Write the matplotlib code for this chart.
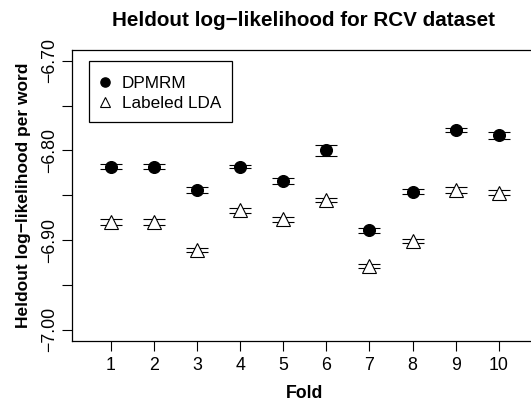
import numpy as np
import matplotlib
matplotlib.use("Agg")
import matplotlib.pyplot as plt
from matplotlib.lines import Line2D
from matplotlib.patches import Rectangle

plt.rcParams['font.family'] = ['Liberation Sans', 'DejaVu Sans']

# --- data ---
folds = [1, 2, 3, 4, 5, 6, 7, 8, 9, 10]
dpmrm = [-6.818, -6.818, -6.844, -6.818, -6.834, -6.800, -6.889, -6.846, -6.777, -6.783]
dpmrm_err = [0.003, 0.003, 0.003, 0.002, 0.003, 0.006, 0.003, 0.003, 0.002, 0.004]
lda = [-6.880, -6.880, -6.911, -6.867, -6.877, -6.855, -6.929, -6.901, -6.844, -6.847]
lda_err = [0.003, 0.003, 0.002, 0.003, 0.003, 0.002, 0.002, 0.002, 0.003, 0.003]

yticks = [-7.00, -6.95, -6.90, -6.85, -6.80, -6.75, -6.70]
ylabels = ['\u22127.00', '', '\u22126.90', '', '\u22126.80', '', '\u22126.70']

W, H = 531, 403
fig = plt.figure(figsize=(W / 100, H / 100), dpi=100)
# axes box runs past the right edge, as in the cropped original
ax = fig.add_axes([72 / W, 1 - 340.5 / H, (537.5 - 72) / W, (340.5 - 50) / H])

# --- error bars (caps only) ---
ax.errorbar(folds, dpmrm, yerr=dpmrm_err, fmt='none', ecolor='black',
            elinewidth=0.8, capsize=8, capthick=0.8, zorder=2)
ax.errorbar(folds, lda, yerr=lda_err, fmt='none', ecolor='black',
            elinewidth=0.8, capsize=8, capthick=0.8, zorder=2)

# --- points ---
ax.plot(folds, dpmrm, 'o', color='black', markersize=8.4, zorder=3)
ax.plot(folds, lda, '^', markerfacecolor='white', markeredgecolor='black',
        markeredgewidth=0.8, markersize=9.5, zorder=3)

ax.set_xlim(0.1, 10.9)
ax.set_ylim(-7.012, -6.688)
ax.set_xticks(folds)
ax.set_xticklabels([str(f) for f in folds])
ax.set_yticks(yticks)
ax.set_yticklabels(ylabels, rotation=90, va='center')
ax.tick_params(axis='both', direction='out', length=7, width=0.8,
               labelsize=12.8, pad=5)
ax.tick_params(axis='y', pad=3)
for s in ax.spines.values():
    s.set_linewidth(0.9)

ax.set_xlabel('Fold', fontsize=12.8, fontweight='bold', labelpad=8)
ax.set_ylabel('Heldout log\u2212likelihood per word', fontsize=12.5,
              fontweight='bold', labelpad=7)
fig.text(304 / W, 1 - 20 / H,
         'Heldout log\u2212likelihood for RCV dataset', ha='center', va='center',
         fontsize=14.85, fontweight='bold')

# --- legend (frame drawn separately, R style) ---
fig.add_artist(Rectangle((89 / W, 1 - 121.7 / H), (232 - 89) / W, 61 / H,
                         transform=fig.transFigure, facecolor='white',
                         edgecolor='black', linewidth=0.9, zorder=4))
handles = [
    Line2D([], [], marker='o', linestyle='none', color='black', markersize=6.6),
    Line2D([], [], marker='^', linestyle='none', markerfacecolor='white',
           markeredgecolor='black', markeredgewidth=0.8, markersize=7.4),
]
leg = fig.legend(handles, ['DPMRM', 'Labeled LDA'], loc='upper left',
                 bbox_to_anchor=(96.5 / W, 1 - 75.5 / H),
                 borderaxespad=0, borderpad=0, fontsize=12.3, frameon=False,
                 handlelength=1.0, handletextpad=0.48, labelspacing=0.3)
leg.set_zorder(5)

fig.savefig('out.png', dpi=100)
